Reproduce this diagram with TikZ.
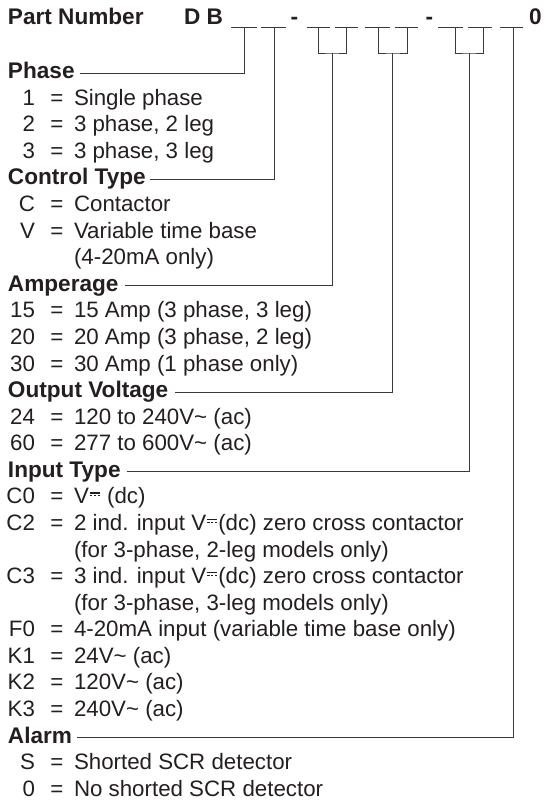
\documentclass[tikz,border=0pt]{standalone}
\usepackage{fontspec}
\setmainfont{Liberation Sans}
\usetikzlibrary{calc}
\definecolor{ink}{HTML}{231F20}
\definecolor{linec}{HTML}{3A3A3A}
\newcommand\dcsym{\kern0.05em\rlap{\raisebox{0.46em}{\rule{0.44em}{0.065em}}}\raisebox{0.33em}{\rule{0.1em}{0.065em}\kern0.07em\rule{0.1em}{0.065em}\kern0.07em\rule{0.1em}{0.065em}}\kern0.05em}
\newcommand\actil{\char"007E\relax}
\newcommand\entry[4]{%
  \node[codec] (#1c) at (35,#2) {#3};
  \node[eqc] (#1e) at (57,#2) {=};
  \node[desc] (#1t) at (74,#2) {#4};}
\tikzset{
  txt/.style={inner sep=0pt, outer sep=0pt, text=ink, font=\fontsize{22.3}{26}\selectfont},
  hdr/.style={txt, font=\fontsize{22.6}{26}\selectfont\bfseries, anchor=base west},
  codec/.style={txt, anchor=base east},
  eqc/.style={txt, anchor=base},
  desc/.style={txt, anchor=base west},
  conn/.style={draw=linec, line width=0.8pt},
  blank/.style={draw=linec, line width=0.8pt},
}
\begin{document}
\begin{tikzpicture}[x=1pt,y=-1pt]
\useasboundingbox (0,0) rectangle (547,802);
% part number row
\node[hdr] (pn) at (8,25) {Part Number};
\node[hdr] (db) at (184,25) {D B};
\node[hdr,anchor=base] (dash1) at (294.5,25) {-};
\node[hdr,anchor=base] (dash2) at (429.5,25) {-};
\node[hdr] (zero) at (529,25) {0};
% blanks
\foreach \a/\b in {231/257,261/286,307/330,335/358,365/390,395/418,438/463,468/492,500/523}
  \draw[blank] (\a,27) -- (\b,27);
% stem tops
\coordinate (s1) at (244,27);
\coordinate (s2) at (274,27);
\coordinate (s3) at (318,27);
\coordinate (s4) at (346,27);
\coordinate (s5) at (378,27);
\coordinate (s6) at (407,27);
\coordinate (s7) at (455,27);
\coordinate (s8) at (483,27);
\coordinate (s9) at (513,27);
\coordinate (k34) at (332,53);
\coordinate (k56) at (392.5,53);
\coordinate (k78) at (469,53);
% brackets
\draw[conn] (s3) |- (k34) -| (s4);
\draw[conn] (s5) |- (k56) -| (s6);
\draw[conn] (s7) |- (k78) -| (s8);
% headers
\node[hdr] (hphase) at (8,78.7) {Phase};
\node[hdr] (hctrl) at (8,185.0) {Control Type};
\node[hdr] (hamp) at (8,291.3) {Amperage};
\node[hdr] (hout) at (8,397.5) {Output Voltage};
\node[hdr] (hin) at (8,477.2) {Input Type};
\node[hdr] (halarm) at (8,743.0) {Alarm};
% connectors
\draw[conn] ([shift={(5,-5.5)}]hphase.base east) -| (s1);
\draw[conn] ([shift={(4,-5.5)}]hctrl.base east) -| (s2);
\draw[conn] ([shift={(6,-5.5)}]hamp.base east) -| (k34);
\draw[conn] ([shift={(7,-5.5)}]hout.base east) -| (k56);
\draw[conn] ([shift={(6,-5.5)}]hin.base east) -| (k78);
\draw[conn] ([shift={(5,-5.5)}]halarm.base east) -| (s9);
% entries
\entry{p1}{105.3}{1}{Single phase}
\entry{p2}{131.8}{2}{3 phase, 2 leg}
\entry{p3}{158.4}{3}{3 phase, 3 leg}
\entry{cc}{211.5}{C}{Contactor}
\entry{cv}{238.1}{V}{Variable time base}
\node[desc] (cvb) at (74,264.7) {(4-20mA only)};
\entry{a15}{317.8}{15}{15 Amp (3 phase, 3 leg)}
\entry{a20}{344.4}{20}{20 Amp (3 phase, 2 leg)}
\entry{a30}{371.0}{30}{30 Amp (1 phase only)}
\entry{o24}{424.1}{24}{120 to 240V\actil{} (ac)}
\entry{o60}{450.7}{60}{277 to 600V\actil{} (ac)}
\entry{ic0}{503.8}{C0}{V\dcsym{} (dc)}
\entry{ic2}{530.4}{C2}{2 ind. input V\dcsym(dc) zero cross contactor}
\node[desc] (ic2b) at (74,557.0) {(for 3-phase, 2-leg models only)};
\entry{ic3}{583.5}{C3}{3 ind. input V\dcsym(dc) zero cross contactor}
\node[desc] (ic3b) at (74,610.1) {(for 3-phase, 3-leg models only)};
\entry{if0}{636.7}{F0}{4-20mA input (variable time base only)}
\entry{ik1}{663.2}{K1}{24V\actil{} (ac)}
\entry{ik2}{689.8}{K2}{120V\actil{} (ac)}
\entry{ik3}{716.4}{K3}{240V\actil{} (ac)}
\entry{als}{769.5}{S}{Shorted SCR detector}
\entry{al0}{796.1}{0}{No shorted SCR detector}
\end{tikzpicture}
\end{document}
